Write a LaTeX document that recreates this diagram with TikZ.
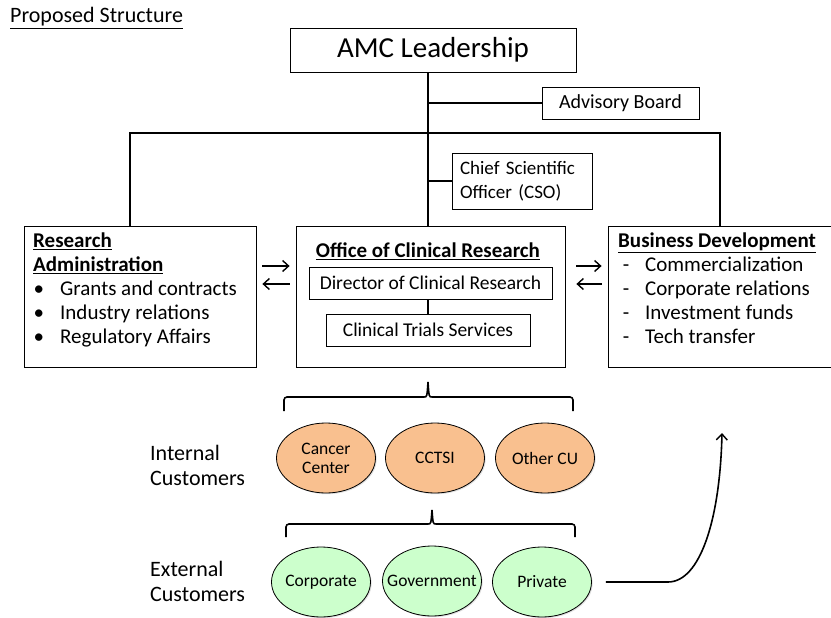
\documentclass[tikz,border=0pt]{standalone}
\usepackage{fontspec}
\setmainfont{Carlito}
\usetikzlibrary{shapes.geometric,shadows,arrows.meta}

\tikzset{
  orgbox/.style={draw, line width=0.8pt, inner sep=0pt},
  conn/.style={line width=1.6pt},
  arr/.style={conn, -{Straight Barb[length=6pt,width=11pt,line width=1.4pt]}},
  custell/.style={ellipse, draw, line width=0.8pt, minimum width=99pt, minimum height=70pt, inner sep=0pt,
    drop shadow={opacity=0.25, shadow xshift=1.2pt, shadow yshift=-1.2pt},
    label={[font=\fontsize{17.5}{19}\selectfont, align=center, inner sep=0pt]center:#1}},
}
\definecolor{internalfill}{RGB}{249,192,143}
\definecolor{externalfill}{RGB}{204,255,204}

\begin{document}
\begin{tikzpicture}[x=1pt,y=1pt,yscale=-1]
	\useasboundingbox (0,0) rectangle (831,618);
	% Title
	\node[anchor=west, inner sep=0pt, font=\fontsize{22}{24}\selectfont] (title) at (10,18) {\underline{Proposed Structure}};
	
	%top of the chart
	\node[orgbox, minimum width=286pt, minimum height=44pt, font=\fontsize{29}{32}\selectfont] (amc) at (433,50) {AMC Leadership};
	\node[orgbox, minimum width=157pt, minimum height=32pt, font=\fontsize{20}{22}\selectfont] (advisory) at (620.5,103) {Advisory Board};
	\node[orgbox, minimum width=140pt, minimum height=56pt, font=\fontsize{19}{24}\selectfont, align=left, text width=124pt] (cso) at (522,181) {Chief Scientific\\Officer (CSO)};
	
	%Shape: Rectangle -- the three boxes
	\node[orgbox, minimum width=232pt, minimum height=141pt] (resbox) at (140,296.5) {};
	\node[orgbox, minimum width=269pt, minimum height=141pt, drop shadow={opacity=0.25, shadow xshift=1.2pt, shadow yshift=-1.2pt}, fill=white] (office) at (430.5,296.5) {};
	\node[orgbox, minimum width=232pt, minimum height=141pt] (bizbox) at (724,296.5) {};
	
	% Text Node
	\node[anchor=north west, inner sep=0pt, font=\fontsize{21}{24}\selectfont, align=left] (restext) at (33,233) {%
		\textbf{\underline{Research}}\\
		\textbf{\underline{Administration}}\\
		\makebox[27pt][l]{\hspace{0.5pt}\textbullet}Grants and contracts\\
		\makebox[27pt][l]{\hspace{0.5pt}\textbullet}Industry relations\\
		\makebox[27pt][l]{\hspace{0.5pt}\textbullet}Regulatory Affairs};
	% Text Node
	\node[anchor=north west, inner sep=0pt, font=\fontsize{21}{24}\selectfont, align=left] (biztext) at (618,233) {%
		\textbf{\underline{Business Development}}\\
		\makebox[27pt][l]{\ -}Commercialization\\
		\makebox[27pt][l]{\ -}Corporate relations\\
		\makebox[27pt][l]{\ -}Investment funds\\
		\makebox[27pt][l]{\ -}Tech transfer};
	% Text Node
	\node[inner sep=0pt, font=\fontsize{21}{24}\selectfont] (officetext) at (428,251) {\textbf{\underline{Office of Clinical Research}}};
	\node[orgbox, minimum width=243pt, minimum height=32pt, font=\fontsize{19.5}{22}\selectfont] (director) at (430.5,283) {Director of Clinical Research};
	\node[orgbox, minimum width=204pt, minimum height=32pt, font=\fontsize{19.5}{22}\selectfont] (trials) at (428,330) {Clinical Trials Services};
	
	%Straight Lines
	\coordinate (spine) at (428,133);
	\draw[conn] (amc.south -| trials.north) -- (trials.north |- office.north);
	\draw[conn] (advisory.west) -- (advisory.west -| spine);
	\draw[conn] (cso.west) -- (cso.west -| spine);
	\draw[conn] ([xshift=-10pt]resbox.north) |- (spine) -| ([xshift=-4pt]bizbox.north);
	\draw[conn] (director.south -| trials.north) -- (trials.north);
	
	% arrows between boxes
	\coordinate (rowa) at (0,266);
	\coordinate (rowb) at (0,284);
	\draw[arr, shorten <=6pt, shorten >=6pt] (resbox.east |- rowa) -- (office.west |- rowa);
	\draw[arr, shorten <=6pt, shorten >=6pt] (office.west |- rowb) -- (resbox.east |- rowb);
	\draw[arr, shorten <=11pt, shorten >=6pt] (office.east |- rowa) -- (bizbox.west |- rowa);
	\draw[arr, shorten <=6pt, shorten >=11pt] (bizbox.west |- rowb) -- (office.east |- rowb);
	
	%cluster 1 -- internal customers
	\draw[conn, rounded corners=3pt] (284,411) -- (284,397) -- (424,397);
	\draw[conn] (424,397) .. controls (427,397) .. (428,382) .. controls (429,397) .. (432,397);
	\draw[conn, rounded corners=3pt] (432,397) -- (573,397) -- (573,411);
	\node[custell={Cancer\\Center}, fill=internalfill] (cancer) at (326,458) {};
	\node[custell={CCTSI}, fill=internalfill] (cctsi) at (435,458) {};
	\node[custell={Other CU}, fill=internalfill] (othercu) at (545,458) {};
	% Text Node
	\node[anchor=west, inner sep=0pt, font=\fontsize{22}{25}\selectfont, align=left] (internal) at (150,465) {Internal\\Customers};
	
	%cluster 2 -- external customers
	\draw[conn, rounded corners=3pt] (286,537) -- (286,524) -- (428,524);
	\draw[conn] (428,524) .. controls (431,524) .. (432,510) .. controls (433,524) .. (436,524);
	\draw[conn, rounded corners=3pt] (436,524) -- (575,524) -- (575,537);
	\node[custell={Corporate}, fill=externalfill] (corporate) at (321,582) {};
	\node[custell={Government}, fill=externalfill] (government) at (432,581) {};
	\node[custell={Private}, fill=externalfill] (private) at (542,582) {};
	% Text Node
	\node[anchor=west, inner sep=0pt, font=\fontsize{22}{25}\selectfont, align=left] (external) at (150,581) {External\\Customers};
	
	% arrow
	\coordinate (bend) at (668,582);
	\coordinate (tip) at (722,433);
	\draw[arr] ([xshift=14pt]private.east) -- (bend) .. controls (700,582) and (720,520) .. (tip);
\end{tikzpicture}
\end{document}
